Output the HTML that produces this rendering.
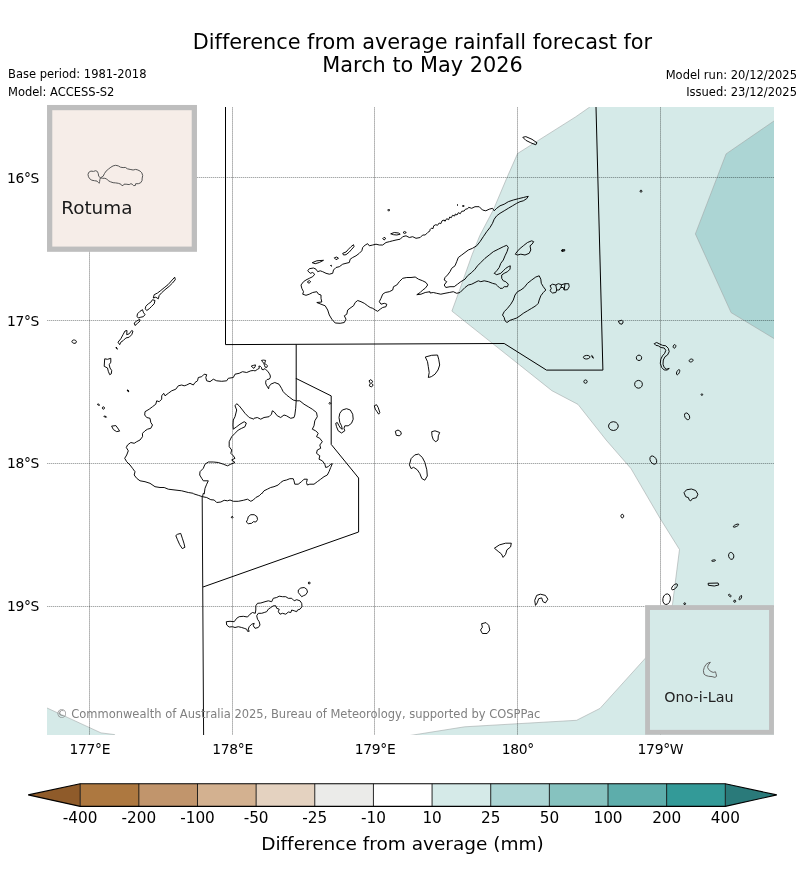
<!DOCTYPE html>
<html lang="en"><head><meta charset="utf-8"><title>Difference from average rainfall forecast</title>
<style>
html,body{margin:0;padding:0;background:#fff;}
svg{display:block;}
text{font-variant-ligatures:none;font-family:"DejaVu Sans","Liberation Sans",sans-serif;fill:#000;}
</style></head><body>
<svg width="804" height="896" viewBox="0 0 804 896">
<rect width="804" height="896" fill="#fff"/>
<defs><clipPath id="mapclip"><rect x="47" y="107" width="727" height="628"/></clipPath></defs>

<g clip-path="url(#mapclip)">
<polygon fill="#d5eae8" stroke="#a3a9a9" stroke-width="0.6" points="589.8,107.0 575.6,116.9 517.6,153.5 507.2,177.1 493.5,209.5 479.8,235.6 472.3,254.2 458.7,292.5 451.9,311.1 551.9,390.7 578.0,404.4 606.1,440.0 631.0,468.6 660.1,518.4 679.5,549.5 672.5,604.2 660.0,640.0 646.3,657.2 600.0,708.4 576.6,720.3 464.7,726.8 410.0,735.5 410.0,740.0 780.0,740.0 780.0,100.0 589.8,100.0"/>
<polygon fill="#d5eae8" stroke="#a3a9a9" stroke-width="0.6" points="40.0,704.5 47.1,708.0 101.0,732.9 114.6,734.6 116.0,740.0 40.0,740.0"/>
<polygon fill="#acd5d4" stroke="#a0a6a6" stroke-width="0.6" points="780.0,117.0 774.1,120.9 726.1,153.9 695.4,233.9 731.1,312.6 774.1,338.6 780.0,342.0"/>
<line x1="89.5" y1="107" x2="89.5" y2="735" stroke="#000" stroke-opacity="0.24" stroke-width="1"/>
<line x1="89.5" y1="107" x2="89.5" y2="735" stroke="#001010" stroke-opacity="0.08" stroke-width="1" stroke-dasharray="1 1"/>
<line x1="232.5" y1="107" x2="232.5" y2="735" stroke="#000" stroke-opacity="0.24" stroke-width="1"/>
<line x1="232.5" y1="107" x2="232.5" y2="735" stroke="#001010" stroke-opacity="0.08" stroke-width="1" stroke-dasharray="1 1"/>
<line x1="374.5" y1="107" x2="374.5" y2="735" stroke="#000" stroke-opacity="0.24" stroke-width="1"/>
<line x1="374.5" y1="107" x2="374.5" y2="735" stroke="#001010" stroke-opacity="0.08" stroke-width="1" stroke-dasharray="1 1"/>
<line x1="517.5" y1="107" x2="517.5" y2="735" stroke="#000" stroke-opacity="0.24" stroke-width="1"/>
<line x1="517.5" y1="107" x2="517.5" y2="735" stroke="#001010" stroke-opacity="0.08" stroke-width="1" stroke-dasharray="1 1"/>
<line x1="660.5" y1="107" x2="660.5" y2="735" stroke="#000" stroke-opacity="0.24" stroke-width="1"/>
<line x1="660.5" y1="107" x2="660.5" y2="735" stroke="#001010" stroke-opacity="0.08" stroke-width="1" stroke-dasharray="1 1"/>
<line x1="47" y1="177.5" x2="774" y2="177.5" stroke="#000808" stroke-opacity="0.13" stroke-width="1"/>
<line x1="47" y1="177.5" x2="774" y2="177.5" stroke="#000808" stroke-opacity="0.25" stroke-width="1" stroke-dasharray="1 1"/>
<line x1="47" y1="320.5" x2="774" y2="320.5" stroke="#000808" stroke-opacity="0.13" stroke-width="1"/>
<line x1="47" y1="320.5" x2="774" y2="320.5" stroke="#000808" stroke-opacity="0.25" stroke-width="1" stroke-dasharray="1 1"/>
<line x1="47" y1="463.5" x2="774" y2="463.5" stroke="#000808" stroke-opacity="0.13" stroke-width="1"/>
<line x1="47" y1="463.5" x2="774" y2="463.5" stroke="#000808" stroke-opacity="0.25" stroke-width="1" stroke-dasharray="1 1"/>
<line x1="47" y1="606.5" x2="774" y2="606.5" stroke="#000808" stroke-opacity="0.13" stroke-width="1"/>
<line x1="47" y1="606.5" x2="774" y2="606.5" stroke="#000808" stroke-opacity="0.25" stroke-width="1" stroke-dasharray="1 1"/>
<polyline fill="none" stroke="#000" stroke-width="1" points="225.5,107.0 225.5,344.6 504.2,343.5 546.5,370.1 602.9,370.1 596.0,107.0"/>
<polyline fill="none" stroke="#000" stroke-width="1" points="296.2,344.4 296.2,378.5 331.2,395.9 331.2,444.4 358.6,478.0 358.6,532.0 203.0,587.0"/>
<polyline fill="none" stroke="#000" stroke-width="1" points="296.2,378.0 296.2,400.8"/>
<path fill="none" stroke="#000" stroke-width="0.95" stroke-linejoin="round" d="M127.3 390.0 L128.7 390.7 L128.0 391.3Z M342.3 410.0 L346.5 408.7 L350.3 410.0 L352.7 414.2 L353.2 419.2 L351.5 423.3 L348.2 425.8 L344.8 425.8 L344.0 428.3 L344.8 430.8 L341.5 433.0 L338.2 430.8 L336.5 426.7 L335.7 423.3 L337.3 422.5 L339.0 425.8 L340.7 428.3 L342.3 429.2 L341.5 425.8 L339.8 422.5 L339.0 417.5 L339.8 413.3Z M369.0 380.8 L370.7 379.7 L372.7 381.3 L371.5 383.3 L373.2 385.0 L371.5 387.0 L369.3 385.8 L370.3 383.3Z M374.3 405.8 L376.5 404.7 L378.2 407.5 L379.8 412.5 L378.7 414.2 L377.0 411.7 L375.3 409.2Z M329.0 403.3 L329.8 402.3 L330.8 403.3 L329.8 404.3Z M248.3 516.7 L250.8 514.7 L254.2 514.7 L257.0 516.7 L257.5 519.7 L255.8 522.0 L253.3 521.7 L251.7 523.3 L248.3 523.7 L246.3 522.0 L247.5 519.7Z M231.2 517.2 L232.2 516.2 L233.2 517.2 L232.2 518.2Z M177.5 534.3 L180.7 533.4 L182.3 538.2 L183.9 543.1 L184.9 547.3 L182.3 548.6 L179.7 544.7 L177.5 539.8 L175.8 535.6Z M430.0 229.7 L431.7 228.0 L433.0 228.7 L433.7 225.8 L435.8 224.7 L437.5 225.3 L439.2 223.0 L440.8 223.7 L442.0 220.8 L444.2 220.0 L445.0 221.3 L446.7 218.7 L448.7 219.7 L449.7 217.0 L451.3 217.7 L452.5 215.3 L454.7 216.0 L455.3 214.0 L457.0 215.0 L458.3 212.7 L460.3 213.7 L461.7 211.3 L464.2 211.0 L465.3 209.3 L467.7 208.7 L468.7 207.3 L471.7 208.3 L475.0 206.7 L479.2 206.7 L482.5 210.0 L485.8 210.8 L489.2 209.2 L492.5 208.3 L494.2 210.8 L496.7 208.3 L500.0 205.8 L504.2 204.2 L508.3 201.7 L513.3 200.0 L518.3 198.7 L523.3 197.5 L528.3 196.3 L526.7 198.7 L523.3 200.8 L520.0 201.7 L516.7 203.3 L512.5 205.8 L508.3 208.3 L504.2 210.8 L500.0 213.3 L496.7 215.8 L494.2 219.2 L492.5 223.3 L490.0 227.5 L486.7 231.7 L483.3 236.7 L480.0 241.7 L476.7 245.8 L472.5 248.3 L468.3 250.0 L465.0 252.5 L461.7 255.0 L458.3 257.5 L456.7 261.7 L455.0 265.8 L451.7 268.3 L450.0 271.7 L447.5 275.0 L445.0 277.5 L444.2 280.0 L446.7 281.7 L444.2 285.0 L445.8 287.5 L450.0 286.7 L454.2 286.7 L457.5 284.2 L460.8 281.7 L465.0 279.2 L467.5 275.8 L471.7 272.5 L475.0 269.2 L477.5 265.8 L480.8 262.5 L485.0 258.3 L489.2 255.0 L493.3 251.7 L498.3 249.2 L503.3 246.7 L506.7 245.3 L508.3 247.5 L507.0 251.7 L505.0 255.8 L503.3 260.0 L500.8 263.3 L499.2 267.5 L496.7 270.8 L494.2 273.3 L496.7 274.7 L500.8 273.3 L503.3 270.8 L505.8 268.3 L508.3 266.7 L510.3 265.8 L510.0 269.2 L507.5 271.7 L504.2 273.3 L501.7 275.0 L501.7 278.3 L503.3 280.8 L505.8 281.7 L508.3 284.2 L507.5 286.7 L504.2 286.7 L502.5 288.3 L500.0 288.3 L497.5 285.8 L495.8 284.2 L492.5 283.3 L488.3 281.7 L484.2 280.8 L480.8 281.7 L478.3 280.8 L475.0 282.5 L471.7 284.2 L468.3 285.0 L465.0 287.5 L462.5 290.0 L460.0 292.5 L456.7 293.3 L453.3 291.7 L449.2 292.5 L445.0 293.3 L440.8 294.2 L436.7 293.3 L433.3 292.5 L430.0 293.0 L430.0 291.7 L425.2 292.5 L421.0 294.2 L416.8 294.7 L420.2 292.5 L422.7 290.0 L425.2 288.3 L427.7 285.0 L426.0 282.5 L422.7 280.8 L418.5 279.2 L415.2 277.0 L411.0 277.5 L406.8 277.5 L402.7 278.3 L399.3 281.7 L396.8 285.0 L393.5 286.7 L392.7 290.0 L389.3 291.7 L385.2 292.5 L382.7 294.2 L381.0 298.3 L379.3 301.7 L381.0 304.2 L384.3 303.3 L386.8 304.2 L386.0 306.7 L382.7 307.5 L380.2 309.2 L377.7 311.3 L375.2 310.0 L372.7 308.3 L370.2 307.5 L367.7 305.8 L364.3 303.3 L361.0 301.7 L357.7 300.5 L355.2 302.5 L353.5 305.8 L351.0 307.5 L347.7 310.0 L346.8 314.2 L344.3 315.8 L346.0 319.2 L344.3 322.5 L340.2 323.3 L335.2 323.0 L331.8 319.2 L329.3 315.0 L327.7 310.0 L325.2 305.8 L321.0 304.2 L316.8 302.5 L321.8 302.0 L321.0 298.3 L321.0 295.0 L318.5 294.2 L316.8 291.7 L312.7 292.5 L309.3 294.2 L306.0 295.3 L302.7 294.2 L303.5 291.7 L301.8 288.3 L301.0 285.0 L303.5 281.7 L306.0 280.0 L309.3 278.3 L312.7 276.7 L314.7 274.2 L312.7 272.5 L310.2 273.3 L307.7 270.8 L309.3 268.7 L313.5 268.0 L316.0 269.2 L317.7 271.7 L320.2 270.8 L322.7 271.7 L326.0 273.3 L329.3 274.2 L332.7 273.3 L333.5 270.0 L336.0 267.5 L339.3 266.7 L342.7 264.2 L346.0 263.3 L349.3 262.5 L350.2 259.2 L352.7 257.5 L356.0 255.8 L359.3 253.3 L361.8 250.8 L362.7 247.5 L365.2 245.0 L367.7 243.7 L369.3 245.8 L372.7 245.0 L376.0 244.2 L379.3 245.0 L382.7 245.0 L386.0 242.5 L389.3 241.7 L392.7 240.8 L396.0 240.0 L400.2 239.2 L402.7 236.7 L406.0 235.8 L409.3 237.5 L412.7 236.7 L416.0 238.3 L420.2 237.5 L422.7 235.0 L425.2 235.0 L427.7 232.5 L430.0 230.8Z M312.2 262.7 L316.8 260.8 L323.5 260.3 L319.3 262.5 L315.2 263.7Z M334.3 257.8 L336.8 257.0 L338.5 258.3 L336.0 259.7Z M342.7 253.3 L346.0 252.0 L348.5 249.2 L351.0 246.7 L353.5 244.7 L354.0 246.7 L351.8 249.2 L349.3 252.0 L346.0 254.7 L343.5 255.0Z M382.7 238.7 L384.0 237.3 L385.7 238.3 L384.3 240.0Z M390.7 233.8 L394.3 232.5 L398.5 233.0 L400.2 234.2 L396.8 235.0 L393.5 234.7Z M403.0 232.5 L404.7 231.5 L406.3 232.5 L404.7 233.5Z M387.7 210.0 L388.7 209.0 L389.7 210.0 L388.7 211.2Z M330.5 265.5 L331.3 265.2 L331.5 266.3Z M307.3 282.0 L309.3 280.5 L310.7 281.7 L309.0 283.3Z M515.8 253.3 L519.2 249.2 L523.3 245.8 L527.5 242.5 L531.7 240.8 L533.7 241.7 L532.0 244.2 L530.0 245.8 L530.8 250.0 L529.2 253.3 L525.0 255.0 L520.8 254.2 L517.5 255.0 L515.3 254.2Z M457.0 205.0 L457.5 204.5 L458.0 205.0 L457.5 205.5Z M462.5 206.0 L463.3 205.0 L464.2 206.0 L463.3 207.0Z M561.7 250.0 L563.0 249.7 L563.2 251.0 L561.8 251.2Z M539.2 275.8 L540.8 279.2 L541.3 283.3 L543.3 286.7 L545.8 290.0 L543.3 292.5 L540.8 295.8 L539.2 300.0 L538.3 303.3 L535.8 305.8 L531.7 308.3 L527.5 310.8 L523.3 313.3 L520.0 315.8 L516.7 318.0 L513.3 319.2 L510.0 320.3 L507.0 322.5 L505.0 320.8 L504.2 317.5 L502.5 315.0 L504.2 311.7 L507.5 308.3 L510.8 304.2 L513.3 300.0 L515.0 295.0 L517.5 291.7 L520.8 290.0 L524.2 287.5 L527.5 283.3 L531.7 280.0 L535.8 277.0Z M550.0 285.8 L552.5 284.2 L555.8 285.0 L558.3 283.7 L561.7 284.7 L565.0 283.7 L568.7 283.7 L569.2 286.7 L567.5 289.7 L564.2 290.0 L563.3 287.5 L560.8 287.5 L559.2 290.0 L556.7 290.0 L555.8 292.5 L552.5 293.0 L550.0 290.8 L551.3 288.3Z M562.0 250.0 L564.7 249.5 L564.7 251.0 L562.0 251.3Z M618.3 321.2 L621.7 320.3 L623.3 321.7 L622.0 324.2 L619.7 323.7Z M590.0 356.9 L589.6 357.8 L588.4 358.6 L586.8 359.0 L585.2 358.9 L583.9 358.3 L583.4 357.5 L583.7 356.5 L584.9 355.8 L586.5 355.4 L588.2 355.5 L589.4 356.0Z M591.7 355.5 L593.0 356.7 L593.3 358.3 L592.2 357.2Z M641.7 357.8 L641.3 359.2 L640.4 360.2 L639.0 360.5 L637.6 360.2 L636.7 359.2 L636.3 357.8 L636.7 356.5 L637.6 355.5 L639.0 355.1 L640.4 355.5 L641.3 356.5Z M654.2 343.7 L656.7 342.5 L660.0 344.2 L662.5 345.3 L665.8 345.8 L668.3 348.3 L669.2 351.7 L667.5 355.0 L665.0 356.7 L663.3 360.0 L663.0 364.2 L664.2 367.5 L666.7 369.2 L669.2 368.3 L667.5 370.0 L664.2 370.0 L661.7 367.5 L660.3 363.3 L660.8 359.2 L662.5 355.8 L664.7 353.3 L665.8 350.3 L664.2 348.0 L660.8 347.5 L658.3 345.8 L655.8 345.3Z M675.7 346.8 L675.3 347.6 L674.6 348.1 L673.9 348.1 L673.4 347.6 L673.1 346.9 L673.3 346.0 L673.7 345.2 L674.4 344.7 L675.1 344.7 L675.6 345.2 L675.9 345.9Z M693.0 359.8 L693.0 360.6 L692.5 361.3 L691.6 361.8 L690.6 362.0 L689.7 361.8 L689.2 361.2 L689.2 360.4 L689.7 359.7 L690.6 359.2 L691.6 359.0 L692.5 359.2Z M679.3 372.7 L678.5 373.9 L677.7 374.7 L676.9 374.7 L676.5 374.1 L676.5 373.0 L676.9 371.7 L677.7 370.5 L678.5 369.7 L679.3 369.7 L679.7 370.3 L679.7 371.4Z M642.4 384.3 L641.9 386.2 L640.5 387.7 L638.5 388.2 L636.5 387.7 L635.1 386.2 L634.6 384.3 L635.1 382.4 L636.5 380.9 L638.5 380.4 L640.5 380.9 L641.9 382.4Z M702.7 394.6 L702.3 395.3 L701.5 395.3 L701.1 394.6 L701.5 393.9 L702.3 393.9Z M689.2 415.3 L689.7 417.1 L689.5 418.6 L688.6 419.6 L687.4 419.6 L686.1 418.8 L685.0 417.3 L684.5 415.5 L684.7 414.0 L685.6 413.0 L686.8 413.0 L688.1 413.8Z M618.3 426.1 L617.6 428.3 L615.9 429.9 L613.4 430.5 L610.9 429.9 L609.2 428.3 L608.5 426.1 L609.2 423.9 L610.9 422.3 L613.4 421.7 L615.9 422.3 L617.6 423.9Z M655.9 458.6 L656.7 460.7 L656.5 462.7 L655.5 464.0 L653.9 464.2 L652.2 463.3 L650.7 461.6 L649.9 459.5 L650.1 457.5 L651.0 456.2 L652.7 456.0 L654.4 456.9Z M684.0 492.7 L686.5 489.8 L691.4 489.0 L695.7 490.5 L697.9 494.2 L696.4 497.7 L692.4 498.7 L690.7 500.9 L689.0 499.7 L688.5 497.7 L685.7 496.7Z M623.7 516.1 L623.5 517.0 L623.0 517.7 L622.3 517.9 L621.6 517.7 L621.1 517.0 L620.9 516.1 L621.1 515.2 L621.6 514.5 L622.3 514.3 L623.0 514.5 L623.5 515.2Z M738.7 524.3 L738.6 525.0 L737.7 525.8 L736.4 526.5 L735.0 527.0 L733.9 527.2 L733.3 526.9 L733.4 526.2 L734.3 525.4 L735.6 524.7 L737.0 524.2 L738.1 524.0Z M733.7 555.2 L733.8 557.0 L733.2 558.5 L732.1 559.3 L730.7 559.2 L729.5 558.2 L728.7 556.6 L728.6 554.8 L729.2 553.3 L730.3 552.5 L731.7 552.6 L732.9 553.6Z M715.6 560.3 L715.4 560.6 L714.7 561.0 L713.7 561.3 L712.7 561.4 L712.0 561.2 L711.6 560.9 L711.8 560.6 L712.5 560.2 L713.5 559.9 L714.5 559.8 L715.2 560.0Z M708.1 583.3 L718.1 583.0 L718.8 585.0 L714.3 586.0 L708.4 585.3Z M677.2 584.1 L677.5 585.1 L676.9 586.6 L675.8 588.1 L674.3 589.2 L672.8 589.8 L671.8 589.5 L671.5 588.5 L672.1 587.0 L673.2 585.5 L674.7 584.4 L676.2 583.8Z M670.3 599.9 L669.4 602.4 L667.7 604.1 L665.7 604.5 L663.9 603.5 L662.9 601.3 L662.9 598.5 L663.8 596.0 L665.5 594.3 L667.5 593.9 L669.3 594.9 L670.3 597.1Z M685.6 603.7 L685.2 604.5 L684.2 604.5 L683.8 603.7 L684.2 602.9 L685.2 602.9Z M730.9 596.6 L730.5 596.8 L729.9 596.6 L729.2 596.1 L728.7 595.4 L728.5 594.8 L728.7 594.4 L729.1 594.2 L729.7 594.4 L730.4 594.9 L730.9 595.6 L731.1 596.2Z M735.8 601.2 L735.2 602.2 L734.2 602.2 L733.6 601.2 L734.2 600.2 L735.2 600.2Z M741.2 598.1 L740.6 599.1 L739.9 599.8 L739.4 599.9 L739.1 599.4 L739.2 598.5 L739.6 597.3 L740.2 596.3 L740.9 595.6 L741.4 595.5 L741.7 596.0 L741.6 596.9Z M642.0 191.2 L641.5 192.1 L640.5 192.1 L640.0 191.2 L640.5 190.3 L641.5 190.3Z M522.8 137.3 L525.8 136.6 L532.0 139.3 L537.0 142.8 L535.8 144.8 L530.8 142.8 L525.8 140.3Z M425.3 357.0 L431.7 355.3 L437.5 355.0 L438.7 359.2 L439.7 365.0 L438.0 370.0 L435.0 374.2 L431.3 376.7 L428.3 377.5 L429.2 372.5 L428.3 366.7 L427.5 361.7Z M395.3 431.3 L398.0 430.0 L400.8 431.7 L401.3 434.2 L399.2 435.8 L396.3 435.3Z M431.7 431.7 L435.0 430.8 L439.7 432.5 L438.3 435.8 L438.0 440.0 L435.8 441.7 L433.3 439.7 L432.0 435.8Z M411.1 458.6 L414.8 454.9 L418.6 454.1 L422.3 457.4 L424.8 462.3 L426.8 469.8 L427.3 476.0 L424.8 480.2 L421.8 478.5 L419.8 473.5 L417.3 469.8 L413.6 467.3 L411.1 468.6 L409.4 464.8Z M494.4 548.2 L499.4 544.9 L505.6 543.2 L511.3 543.2 L510.6 546.9 L506.9 549.9 L505.6 554.4 L503.1 557.4 L501.4 553.9 L498.2 551.4Z M535.5 605.4 L534.7 600.4 L536.7 595.4 L540.4 594.2 L545.4 595.4 L547.9 599.2 L545.4 602.9 L542.9 601.6 L541.7 597.9 L538.7 598.7 L537.2 602.9Z M481.6 623.7 L486.0 622.6 L488.7 625.3 L489.8 630.0 L487.1 633.5 L482.4 633.5 L480.5 630.0 L482.4 627.2Z M226.3 621.7 L230.0 621.3 L234.2 621.7 L236.7 618.3 L239.2 616.7 L243.3 616.3 L247.5 617.0 L250.0 614.2 L252.5 612.5 L255.3 613.3 L255.8 610.0 L255.8 605.8 L257.5 603.3 L260.8 603.0 L265.0 601.7 L268.3 600.8 L271.7 601.7 L273.3 598.3 L276.7 597.5 L279.2 596.2 L282.5 596.7 L285.8 596.7 L288.3 598.3 L291.7 598.3 L294.2 600.8 L296.7 599.7 L300.0 600.8 L301.7 603.3 L302.0 606.7 L300.0 609.2 L297.5 610.0 L296.7 611.7 L294.2 610.8 L291.7 610.0 L290.8 612.5 L288.3 612.0 L285.8 614.2 L282.5 613.3 L280.0 614.2 L278.3 611.7 L279.2 609.2 L276.7 608.3 L275.8 605.8 L273.3 605.8 L270.8 607.5 L268.3 609.2 L266.7 611.7 L264.2 612.5 L261.7 613.3 L258.3 613.3 L256.7 615.8 L257.5 619.2 L259.2 621.7 L260.0 625.0 L258.3 627.5 L255.0 628.3 L253.3 625.8 L254.2 623.3 L251.7 624.2 L249.2 626.7 L248.3 629.2 L249.2 631.3 L247.5 631.3 L246.7 629.2 L244.2 628.3 L241.7 627.5 L238.3 626.7 L235.0 627.5 L232.5 626.7 L229.2 627.0 L226.7 625.0Z M298.3 590.0 L300.8 588.0 L304.2 587.5 L306.7 589.2 L307.5 592.0 L305.8 594.7 L303.3 595.8 L301.7 596.7 L300.0 594.7 L298.3 592.5Z M310.2 583.0 L309.7 583.9 L308.7 583.9 L308.2 583.0 L308.7 582.1 L309.7 582.1Z M174.7 277.2 L175.3 279.7 L172.5 283.0 L169.2 286.3 L165.0 289.7 L161.7 292.7 L159.2 295.5 L158.3 298.8 L155.8 297.2 L153.3 298.0 L154.2 294.7 L157.5 293.0 L160.8 290.5 L164.2 287.7 L168.0 284.7 L171.3 281.0Z M145.8 306.3 L148.3 303.8 L150.8 302.2 L152.5 299.7 L155.0 300.5 L154.2 303.8 L151.7 306.3 L149.2 308.8 L146.7 310.5 L145.3 308.8Z M137.5 313.8 L140.0 311.3 L142.5 309.7 L143.3 312.2 L145.0 314.7 L143.3 316.7 L140.8 317.2 L138.3 318.0 L137.0 316.3Z M134.2 323.0 L136.7 321.0 L139.7 319.3 L140.0 321.0 L137.5 323.3 L135.0 325.5Z M118.0 342.2 L120.8 338.8 L123.0 334.7 L125.0 331.0 L127.0 330.5 L126.7 334.7 L129.2 333.8 L131.7 330.5 L133.0 331.3 L131.7 334.7 L129.2 337.2 L125.8 338.0 L123.3 340.5 L120.8 342.2 L119.7 344.7Z M116.0 347.0 L117.0 348.0 L117.3 349.3 L116.3 348.3Z M104.7 358.8 L107.5 359.3 L110.8 358.3 L110.8 362.2 L109.2 364.7 L110.0 368.0 L111.7 370.5 L111.3 373.8 L109.7 374.7 L108.3 371.3 L107.5 368.0 L104.2 366.3Z M127.2 390.0 L128.3 390.8 L128.8 391.8 L127.7 391.2Z M76.4 342.1 L76.0 342.8 L75.0 343.3 L73.9 343.3 L72.8 342.9 L72.1 342.2 L71.9 341.3 L72.4 340.5 L73.3 340.0 L74.5 340.0 L75.6 340.4 L76.3 341.2Z M99.5 405.3 L98.8 405.4 L97.7 404.8 L97.5 404.1 L98.2 403.9 L99.3 404.6Z M104.6 408.0 L104.2 408.8 L103.4 409.2 L102.6 408.8 L102.2 408.0 L102.6 407.2 L103.4 406.8 L104.2 407.2Z M106.6 417.1 L105.8 417.3 L104.4 416.9 L103.8 416.3 L104.6 416.1 L106.0 416.5Z M111.6 426.1 L115.9 425.6 L118.4 429.1 L119.6 431.1 L116.6 431.6 L113.4 429.6Z M587.2 381.6 L586.7 382.8 L585.5 383.3 L584.3 382.8 L583.8 381.6 L584.3 380.4 L585.5 379.9 L586.7 380.4Z M251.3 366.0 L253.7 365.3 L255.5 364.9 L255.1 366.8 L254.0 368.3 L252.5 367.5Z M261.5 360.4 L263.4 360.1 L265.6 360.4 L265.2 361.9 L264.5 363.4 L266.3 364.6 L267.5 365.7 L266.7 367.5 L265.2 367.2 L264.5 365.3 L263.7 363.1 L262.6 361.9Z M250.8 370.8 L246.7 372.5 L242.5 371.7 L239.2 373.3 L235.0 374.2 L233.3 377.5 L228.3 378.3 L226.7 380.8 L221.7 381.3 L216.7 380.8 L213.3 379.2 L210.0 381.7 L206.7 380.8 L205.8 377.5 L206.7 374.7 L204.2 374.2 L201.7 376.7 L198.3 377.5 L197.5 380.8 L195.0 382.5 L193.3 385.0 L190.0 383.3 L186.7 385.0 L184.2 385.8 L181.7 385.0 L178.3 385.8 L175.8 389.2 L171.7 390.8 L168.3 393.3 L165.0 395.8 L163.7 393.3 L161.7 395.8 L161.7 399.2 L159.2 401.7 L156.7 400.8 L155.8 404.2 L152.5 406.7 L149.2 409.2 L145.0 411.7 L144.7 415.0 L146.7 417.5 L150.0 418.3 L150.8 422.5 L152.5 425.0 L150.8 428.3 L147.5 429.2 L145.0 430.8 L142.5 433.3 L142.5 436.7 L140.0 440.0 L136.7 441.7 L134.2 443.3 L130.8 442.5 L127.5 445.0 L126.3 447.5 L128.3 450.8 L126.7 455.0 L124.7 458.3 L126.7 461.7 L130.0 465.0 L132.5 468.3 L135.0 471.7 L134.2 475.0 L136.7 478.3 L140.0 480.8 L145.0 481.7 L150.0 483.3 L155.0 486.7 L160.0 487.5 L164.2 487.5 L168.3 489.2 L175.0 490.0 L181.7 490.8 L188.3 492.5 L193.3 493.3 M254.0 419.2 L249.2 417.5 L245.0 413.3 L242.5 410.0 L239.2 405.8 L236.7 403.7 L235.0 405.8 L236.7 410.0 L235.0 416.7 L233.3 420.0 L233.0 425.0 L233.3 429.2 L236.7 426.7 L240.0 424.2 L244.2 421.7 L246.3 423.0 L245.0 426.7 L241.7 428.3 L238.3 430.0 L235.0 433.3 L231.7 436.7 L229.2 441.7 L229.2 446.7 L231.7 450.0 L230.8 453.3 L233.3 455.8 L235.0 458.3 L231.7 460.0 L235.0 462.5 L230.8 464.2 L227.5 465.8 L223.3 464.2 L218.3 462.5 L213.3 462.0 L208.3 462.0 L205.0 464.2 L203.3 468.3 L200.0 471.7 L199.7 475.0 L201.7 478.3 L203.3 480.8 L208.3 480.8 L206.7 484.2 L205.0 488.3 L204.2 494.0 M250.8 370.8 L253.3 370.5 L255.1 370.9 L257.4 369.4 L259.3 368.3 L258.9 366.0 L260.4 366.4 L261.5 367.5 L261.9 369.4 L263.4 369.8 L264.1 368.7 L265.6 369.4 L267.8 371.3 L269.0 373.1 L270.1 375.0 L270.4 377.2 L269.3 379.1 L267.1 379.5 L266.0 380.6 L265.6 382.8 L266.3 385.1 L267.5 386.9 L268.6 388.8 L269.0 386.6 L270.4 384.7 L270.7 384.2 L274.8 382.5 L279.0 384.2 L281.5 388.3 L283.2 391.7 L286.5 395.0 L289.8 397.5 L293.2 400.0 L296.2 400.8 L299.8 400.8 L304.0 404.2 L308.2 406.7 L312.3 409.2 L316.5 412.5 L317.3 416.7 L314.8 420.8 L314.0 425.8 L312.3 429.2 L315.7 430.8 L318.2 433.3 L316.5 436.7 L319.8 438.3 L322.3 441.7 L319.8 445.0 L320.7 448.3 L317.3 450.0 L316.5 453.3 L319.8 455.8 L319.0 459.2 L322.3 460.8 L324.8 464.2 L325.7 467.5 L328.2 466.7 L330.7 464.2 L332.3 463.7 L330.7 467.5 L329.0 471.7 L327.3 475.0 L324.0 476.7 L320.7 479.2 L317.3 481.7 L314.0 484.2 L309.8 484.2 L307.3 485.0 L306.5 482.5 L307.3 479.2 L304.0 479.2 L301.5 481.7 L298.2 484.2 L294.8 484.2 L294.0 480.8 L293.2 478.7 L289.8 478.7 L286.5 480.0 L283.2 480.8 L280.7 482.5 L278.2 485.0 L274.0 486.7 L270.7 487.5 L267.3 489.2 L264.0 490.8 L261.5 494.0 M296.2 400.8 L295.7 408.3 L294.8 415.0 L294.0 417.5 L290.7 418.3 L286.5 415.8 L284.0 415.0 L280.7 417.5 L277.3 415.8 L274.0 411.7 L272.3 410.8 L271.5 414.2 L269.0 416.7 L264.0 417.5 L260.7 419.2 L257.3 417.5 L254.0 418.3 M193.3 493.7 L198.3 495.3 L202.5 496.7 L206.7 497.5 L210.8 499.7 L214.2 500.0 L216.7 502.5 L220.8 502.0 L224.2 500.3 L227.5 500.8 L230.0 500.0 L233.3 501.3 L238.3 501.3 L243.3 500.3 L247.5 499.2 L250.8 501.3 L253.3 500.0 L255.8 497.5 L259.2 495.8 L261.7 493.3 M204.2 494.0 L203.3 493.3 L202.5 496.7 L202.2 497.0 L203.6 735.0 M561.7 284.7 L560.8 287.5 M565.0 283.7 L564.2 290.0 M555.8 285.0 L556.7 290.0"/>
</g>

<!-- copyright -->
<text x="56" y="717.5" font-size="11.5" style="fill:#808080">© Commonwealth of Australia 2025, Bureau of Meteorology, supported by COSPPac</text>
<!-- insets -->
<rect x="49.65" y="107.6" width="144.7" height="141.6" fill="#f6ede8" stroke="#bebebe" stroke-width="5.25"/>
<path d="M100.5 177.8 L98.7 176.3 L98.3 173.7 L97.4 171.5 L95.7 170.7 L93.5 171.4 L90.9 171.1 L88.7 172.4 L88.0 174.6 L88.5 176.8 L89.6 178.7 L91.8 180.2 L94.4 180.7 L97.0 181.1 L98.3 182.4 L99.2 183.3 L99.6 181.6 L99.9 179.4Z M100.5 177.8 L103.1 176.3 L104.4 173.7 L106.1 171.1 L108.7 168.9 L110.9 167.2 L113.1 165.9 L115.7 165.3 L118.3 165.9 L120.5 167.2 L123.1 167.6 L125.3 167.4 L127.4 168.8 L130.1 169.4 L133.1 170.0 L135.7 169.4 L137.9 170.0 L140.1 171.1 L141.8 172.8 L142.7 175.5 L142.2 178.1 L142.0 180.7 L140.5 182.9 L138.3 183.7 L135.7 183.7 L135.3 185.5 L133.5 185.6 L132.2 184.2 L130.9 183.7 L129.2 184.6 L126.1 184.2 L124.0 184.2 L123.1 185.5 L121.8 185.5 L120.9 184.2 L118.3 183.3 L115.7 182.9 L113.1 182.7 L110.5 181.8 L108.3 180.7 L106.6 178.9 L104.8 178.3 L102.6 178.3Z" fill="none" stroke="#555" stroke-width="1" stroke-linejoin="round"/>
<text x="61.2" y="213.5" font-size="18.4" style="fill:#1a1a1a">Rotuma</text>
<rect x="647.55" y="607.55" width="123.95" height="124.75" fill="#d5eae8" stroke="#bebebe" stroke-width="4.85"/>
<path d="M710.4 662.3 L708.2 662.9 L705.9 664.6 L704.3 667.4 L703.4 670.7 L704.0 674.1 L705.9 675.5 L708.7 676.3 L712.1 676.6 L714.9 677.4 L716.6 676.3 L716.0 673.7 L715.5 671.8 L713.2 672.4 L711.0 671.5 L708.7 669.6 L707.6 667.4 L708.2 665.1Z" fill="none" stroke="#666" stroke-width="1" stroke-linejoin="round"/>
<text x="664.2" y="702" font-size="14.3" style="fill:#222">Ono-i-Lau</text>
<!-- titles -->
<text x="422.5" y="49.0" font-size="20.83" text-anchor="middle">Difference from average rainfall forecast for</text>
<text x="422.5" y="71.8" font-size="20.83" text-anchor="middle">March to May 2026</text>
<text x="8" y="78.3" font-size="11.5">Base period: 1981-2018</text>
<text x="8" y="96" font-size="11.5">Model: ACCESS-S2</text>
<text x="797" y="79" font-size="11.5" text-anchor="end">Model run: 20/12/2025</text>
<text x="797" y="96" font-size="11.5" text-anchor="end">Issued: 23/12/2025</text>
<text x="89.8" y="754" font-size="13.89" text-anchor="middle" letter-spacing="-0.3">177°E</text>
<text x="232.5" y="754" font-size="13.89" text-anchor="middle" letter-spacing="-0.3">178°E</text>
<text x="375.1" y="754" font-size="13.89" text-anchor="middle" letter-spacing="-0.3">179°E</text>
<text x="517.8" y="754" font-size="13.89" text-anchor="middle" letter-spacing="-0.3">180°</text>
<text x="660.4" y="754" font-size="13.89" text-anchor="middle" letter-spacing="-0.3">179°W</text>
<text x="7" y="183.2" font-size="13.89" letter-spacing="-0.35">16°S</text>
<text x="7" y="325.7" font-size="13.89" letter-spacing="-0.35">17°S</text>
<text x="7" y="468.3" font-size="13.89" letter-spacing="-0.35">18°S</text>
<text x="7" y="610.8" font-size="13.89" letter-spacing="-0.35">19°S</text>
<rect x="80.20" y="783.80" width="58.95" height="22.60" fill="#ad7840"/>
<rect x="138.85" y="783.80" width="58.95" height="22.60" fill="#c1956c"/>
<rect x="197.49" y="783.80" width="58.95" height="22.60" fill="#d3b190"/>
<rect x="256.14" y="783.80" width="58.95" height="22.60" fill="#e4d2c0"/>
<rect x="314.78" y="783.80" width="58.95" height="22.60" fill="#ebebe9"/>
<rect x="373.43" y="783.80" width="58.95" height="22.60" fill="#ffffff"/>
<rect x="432.07" y="783.80" width="58.95" height="22.60" fill="#d5eae8"/>
<rect x="490.72" y="783.80" width="58.95" height="22.60" fill="#acd5d4"/>
<rect x="549.36" y="783.80" width="58.95" height="22.60" fill="#86c2bf"/>
<rect x="608.01" y="783.80" width="58.95" height="22.60" fill="#5dadab"/>
<rect x="666.65" y="783.80" width="58.95" height="22.60" fill="#339a98"/>
<polygon points="80.2,783.8 28.2,794.9 80.2,806.4" fill="#8f5b2a"/>
<polygon points="725.3,783.8 776.8,794.9 725.3,806.4" fill="#2a7a7a"/>
<line x1="80.20" y1="783.80" x2="80.20" y2="806.40" stroke="#111" stroke-width="0.9"/>
<line x1="138.85" y1="783.80" x2="138.85" y2="806.40" stroke="#111" stroke-width="0.9"/>
<line x1="197.49" y1="783.80" x2="197.49" y2="806.40" stroke="#111" stroke-width="0.9"/>
<line x1="256.14" y1="783.80" x2="256.14" y2="806.40" stroke="#111" stroke-width="0.9"/>
<line x1="314.78" y1="783.80" x2="314.78" y2="806.40" stroke="#111" stroke-width="0.9"/>
<line x1="373.43" y1="783.80" x2="373.43" y2="806.40" stroke="#111" stroke-width="0.9"/>
<line x1="432.07" y1="783.80" x2="432.07" y2="806.40" stroke="#111" stroke-width="0.9"/>
<line x1="490.72" y1="783.80" x2="490.72" y2="806.40" stroke="#111" stroke-width="0.9"/>
<line x1="549.36" y1="783.80" x2="549.36" y2="806.40" stroke="#111" stroke-width="0.9"/>
<line x1="608.01" y1="783.80" x2="608.01" y2="806.40" stroke="#111" stroke-width="0.9"/>
<line x1="666.65" y1="783.80" x2="666.65" y2="806.40" stroke="#111" stroke-width="0.9"/>
<line x1="725.30" y1="783.80" x2="725.30" y2="806.40" stroke="#111" stroke-width="0.9"/>
<polygon points="80.2,783.8 28.2,794.9 80.2,806.4 725.3,806.4 776.8,794.9 725.3,783.8" fill="none" stroke="#000" stroke-width="1.1" stroke-linejoin="miter"/>
<text x="80.2" y="823.3" font-size="15.28" text-anchor="middle">-400</text>
<text x="138.8" y="823.3" font-size="15.28" text-anchor="middle">-200</text>
<text x="197.5" y="823.3" font-size="15.28" text-anchor="middle">-100</text>
<text x="256.1" y="823.3" font-size="15.28" text-anchor="middle">-50</text>
<text x="314.8" y="823.3" font-size="15.28" text-anchor="middle">-25</text>
<text x="373.4" y="823.3" font-size="15.28" text-anchor="middle">-10</text>
<text x="432.1" y="823.3" font-size="15.28" text-anchor="middle">10</text>
<text x="490.7" y="823.3" font-size="15.28" text-anchor="middle">25</text>
<text x="549.4" y="823.3" font-size="15.28" text-anchor="middle">50</text>
<text x="608.0" y="823.3" font-size="15.28" text-anchor="middle">100</text>
<text x="666.7" y="823.3" font-size="15.28" text-anchor="middle">200</text>
<text x="725.3" y="823.3" font-size="15.28" text-anchor="middle">400</text>
<text x="402.5" y="849.5" font-size="18.5" text-anchor="middle">Difference from average (mm)</text>
</svg></body></html>
